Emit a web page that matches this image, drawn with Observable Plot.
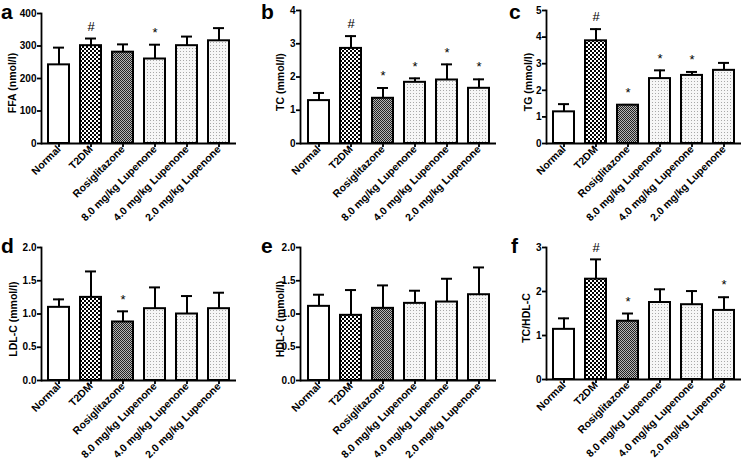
<!DOCTYPE html>
<html><head><meta charset="utf-8">
<script src="https://cdn.jsdelivr.net/npm/d3@7"></script>
<script src="https://cdn.jsdelivr.net/npm/@observablehq/plot@0.6"></script>
<style>
body{margin:0;background:#fff;}
#wrap{position:relative;width:745px;height:463px;overflow:hidden;font-family:"Liberation Sans",Arial,sans-serif;}
.panel{position:absolute;}
.letter{position:absolute;font-weight:bold;font-size:21px;line-height:1;color:#000;}
.ylab{position:absolute;font-weight:bold;font-size:10.5px;line-height:1;color:#000;white-space:nowrap;transform:translate(-50%,-50%) rotate(-90deg);}
</style></head><body>
<svg width="0" height="0" style="position:absolute">
<defs>
<pattern id="checker" width="4" height="4" patternUnits="userSpaceOnUse">
<rect width="4" height="4" fill="#fff"/><rect width="2" height="2" fill="#000"/><rect x="2" y="2" width="2" height="2" fill="#000"/>
</pattern>
<pattern id="fine" width="2" height="2" patternUnits="userSpaceOnUse">
<rect width="2" height="2" fill="#b5b5b5"/><rect width="1" height="1" fill="#222"/><rect x="1" y="1" width="1" height="1" fill="#222"/>
</pattern>
<pattern id="dots" width="3" height="3" patternUnits="userSpaceOnUse">
<rect width="3" height="3" fill="#f6f6f6"/><rect width="1" height="1" fill="#a8a8a8"/>
</pattern>
</defs>
</svg>
<div id="wrap"></div>
<script>
// ---- data ----
const groups = ["Normal","T2DM","Rosiglitazone","8.0 mg/kg Lupenone","4.0 mg/kg Lupenone","2.0 mg/kg Lupenone"];

const ffaMean = [242, 301, 281, 260, 301, 316];
const ffaSD   = [53, 22, 24, 44, 28, 39];
const ffaSig  = ["", "#", "", "*", "", ""];
const ffaTicks = [0, 100, 200, 300, 400];

const tcMean = [1.29, 2.86, 1.36, 1.84, 1.91, 1.66];
const tcSD   = [0.23, 0.37, 0.31, 0.12, 0.47, 0.27];
const tcSig  = ["", "#", "*", "*", "*", "*"];
const tcTicks = [0, 1, 2, 3, 4];

const tgMean = [1.19, 3.86, 1.44, 2.44, 2.56, 2.75];
const tgSD   = [0.29, 0.44, 0.01, 0.31, 0.13, 0.28];
const tgSig  = ["", "#", "*", "*", "*", ""];
const tgTicks = [0, 1, 2, 3, 4, 5];

const ldlMean = [1.10, 1.25, 0.88, 1.08, 1.00, 1.08];
const ldlSD   = [0.12, 0.39, 0.16, 0.32, 0.27, 0.24];
const ldlSig  = ["", "", "*", "", "", ""];
const ldlTicks = [0, 0.5, 1.0, 1.5, 2.0];

const hdlMean = [1.115, 0.98, 1.085, 1.16, 1.18, 1.29];
const hdlSD   = [0.175, 0.38, 0.345, 0.19, 0.35, 0.41];
const hdlSig  = ["", "", "", "", "", ""];
const hdlTicks = [0, 0.5, 1.0, 1.5, 2.0];

const ratioMean = [1.14, 2.28, 1.325, 1.75, 1.70, 1.57];
const ratioSD   = [0.25, 0.45, 0.175, 0.30, 0.31, 0.30];
const ratioSig  = ["", "#", "*", "", "", "*"];
const ratioTicks = [0, 1, 2, 3];

// ---- styles ----
const groupFill = ["#ffffff", "url(#checker)", "url(#fine)", "url(#dots)", "url(#dots)", "url(#dots)"];

const wrap = document.getElementById("wrap");
const W = 249, H = 231;

function panel(o) {
  const data = groups.map((g, i) => ({group: g, mean: o.mean[i], hi: o.mean[i] + o.sd[i], sig: o.sig[i], fill: groupFill[i]}));
  const div = document.createElement("div");
  div.className = "panel";
  div.style.left = o.left + "px";
  div.style.top = o.top + "px";
  const chart = Plot.plot({
    width: W, height: H,
    marginLeft: o.ml, marginRight: o.mr, marginTop: o.mt, marginBottom: o.mb,
    style: {fontFamily: "'Liberation Sans', Arial, sans-serif", fontSize: "10px", fontWeight: "bold", color: "#000", background: "transparent", overflow: "visible"},
    x: {domain: groups, paddingInner: 0.35, paddingOuter: 0.175},
    y: {domain: [0, o.ticks[o.ticks.length - 1]]},
    color: {type: "identity"},
    marks: [
      Plot.ruleX(data, {x: "group", y1: "mean", y2: "hi", stroke: "#000", strokeWidth: 2}),
      Plot.tickY(data, {x: "group", y: "hi", stroke: "#000", strokeWidth: 2, insetLeft: 5, insetRight: 5}),
      Plot.barY(data, {x: "group", y: "mean", fill: "fill", stroke: "#000", strokeWidth: 2}),
      Plot.text(data.filter(d => d.sig), {x: "group", y: "hi", text: "sig", dy: -12, fontSize: 13, fontWeight: "normal", fill: "#000"}),
      Plot.axisX({tickRotate: -45, tickSize: 4, tickPadding: 0, strokeWidth: 1.8, label: null, fontSize: 10.5, fill: "#000", stroke: "#000"}),
      Plot.axisY({ticks: o.ticks, tickFormat: o.fmt, tickSize: 4, tickPadding: 1, strokeWidth: 1.8, fontSize: 10, label: null, stroke: "#000", fill: "#000"}),
      Plot.frame({anchor: "left", stroke: "#000", strokeWidth: 1.8}),
      Plot.ruleY([0], {stroke: "#000", strokeWidth: 1.8})
    ]
  });
  div.appendChild(chart);
  wrap.appendChild(div);
  // y-axis title, centred on the plot frame
  const Y = document.createElement("div");
  Y.className = "ylab";
  Y.textContent = o.label;
  Y.style.left = (o.left + o.ml + o.lo) + "px";
  Y.style.top = (o.top + (o.mt + H - o.mb) / 2 + 5) + "px";
  wrap.appendChild(Y);
  const L = document.createElement("div");
  L.className = "letter";
  L.textContent = o.letter;
  L.style.left = o.lx + "px";
  L.style.top = o.ly + "px";
  wrap.appendChild(L);
}

panel({letter: "a", lx: 1, ly: 1, left: 0, top: 0, ml: 41, mr: 13, mt: 13, mb: 88, mean: ffaMean, sd: ffaSD, sig: ffaSig, ticks: ffaTicks, fmt: d3.format("d"), label: "FFA (nmol/l)", lo: -29});
panel({letter: "b", lx: 261, ly: 1, left: 248, top: 0, ml: 52, mr: 1, mt: 10, mb: 88, mean: tcMean, sd: tcSD, sig: tcSig, ticks: tcTicks, fmt: d3.format("d"), label: "TC (mmol/l)", lo: -20});
panel({letter: "c", lx: 509, ly: 1, left: 496, top: 0, ml: 50, mr: 4, mt: 10, mb: 88, mean: tgMean, sd: tgSD, sig: tgSig, ticks: tgTicks, fmt: d3.format("d"), label: "TG (mmol/l)", lo: -18});
panel({letter: "d", lx: 1, ly: 235, left: 0, top: 232, ml: 41, mr: 13, mt: 15, mb: 83, mean: ldlMean, sd: ldlSD, sig: ldlSig, ticks: ldlTicks, fmt: d3.format(".1f"), label: "LDL-C (mmol/l)", lo: -28});
panel({letter: "e", lx: 261, ly: 235, left: 248, top: 232, ml: 52, mr: 1, mt: 15, mb: 83, mean: hdlMean, sd: hdlSD, sig: hdlSig, ticks: hdlTicks, fmt: d3.format(".1f"), label: "HDL-C (mmol/l)", lo: -20});
panel({letter: "f", lx: 511, ly: 235, left: 496, top: 232, ml: 50, mr: 4, mt: 15, mb: 84, mean: ratioMean, sd: ratioSD, sig: ratioSig, ticks: ratioTicks, fmt: d3.format("d"), label: "TC/HDL-C", lo: -20});
</script>
</body></html>
